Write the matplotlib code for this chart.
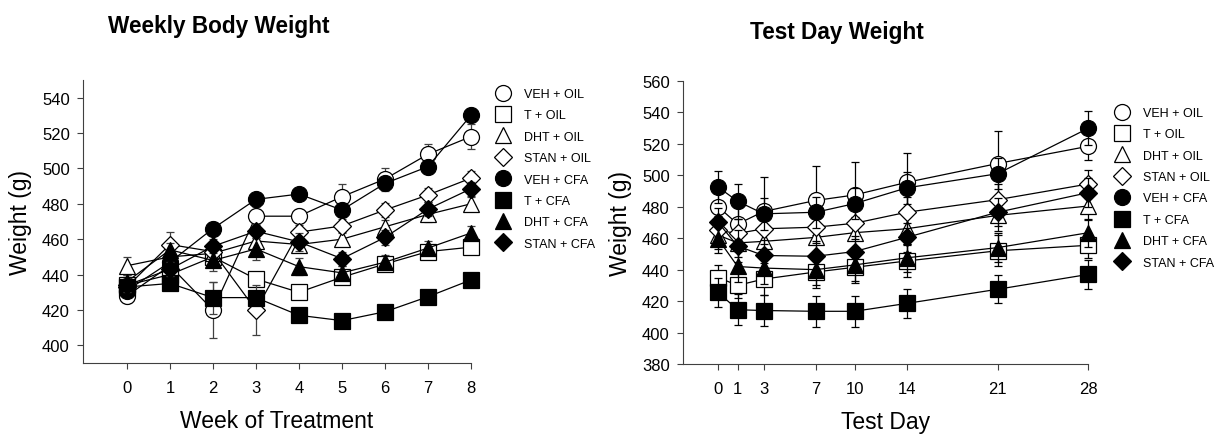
import numpy as np
import matplotlib.pyplot as plt
from matplotlib.lines import Line2D

plt.rcParams['font.family'] = ['Liberation Sans', 'DejaVu Sans']

groups = ['VEH + OIL', 'T + OIL', 'DHT + OIL', 'STAN + OIL',
          'VEH + CFA', 'T + CFA', 'DHT + CFA', 'STAN + CFA']
markers = ['o', 's', '^', 'D', 'o', 's', '^', 'D']
faces = ['white'] * 4 + ['black'] * 4
msize = {'o': 11.5, 's': 11, '^': 12, 'D': 9.5}

# weekly body weight (g), weeks 0-8
weeks = [0, 1, 2, 3, 4, 5, 6, 7, 8]
weekly_mean = [
    [428, 445, 420, 473, 473, 484, 494, 508, 518],
    [434, 440, 450, 437.5, 430, 438.5, 446, 453, 455.5],
    [445, 450, 452, 459, 457, 460, 467, 474, 480],
    [433, 457, 453, 420, 464, 467.5, 476.5, 485, 494.5],
    [431, 447, 466, 482.5, 485.5, 476.5, 491.5, 501, 530],
    [433, 435, 427, 427, 417, 414, 419, 427.5, 437],
    [436, 454, 448, 454.5, 444.5, 441, 447, 455, 463.5],
    [434, 443, 456, 464.5, 458.5, 449, 461, 477, 488.5],
]
weekly_err = [
    [4, 4, 16, 5, 4, 7, 6, 6, 7],
    [4, 3, 4, 4, 4, 3, 3, 3, 4],
    [5, 4, 4, 4, 4, 4, 4, 4, 4],
    [4, 7, 4, 14, 4, 4, 4, 4, 4],
    [3, 4, 4, 3, 3, 4, 4, 4, 4],
    [3, 3, 9, 3, 3, 3, 3, 3, 3],
    [4, 4, 6, 6, 5, 4, 4, 4, 4],
    [4, 4, 4, 4, 5, 4, 4, 4, 4],
]

# test day weight (g)
days = [0, 1, 3, 7, 10, 14, 21, 28]
day_pos = [-0.5, 1, 3, 7, 10, 14, 21, 28]
day_mean = [
    [480, 469, 477, 484, 487.5, 495.5, 507.5, 518.5],
    [435, 430, 434, 438.5, 441.5, 445.5, 452, 455.5],
    [462, 457, 458, 460.5, 463.5, 466, 474.5, 480.5],
    [465, 463, 466, 467, 469.5, 476.5, 484.5, 494.5],
    [492.5, 483.5, 475.5, 476.5, 482, 492, 501, 530],
    [425.5, 414.5, 414, 413.5, 413.5, 418.5, 427.5, 437],
    [459.5, 442, 441, 440, 443, 447.5, 454, 463.5],
    [470, 455, 449, 448.5, 451.5, 460.5, 476.5, 489],
]
day_err = [
    [12, 10, 22, 22, 21, 19, 21, 9],
    [8, 8, 10, 10, 10, 10, 10, 8],
    [9, 9, 10, 10, 10, 10, 10, 9],
    [9, 9, 10, 10, 10, 10, 10, 9],
    [10, 11, 10, 10, 10, 10, 10, 11],
    [9, 10, 10, 10, 10, 9, 9, 9],
    [9, 10, 10, 10, 10, 9, 9, 9],
    [9, 10, 10, 10, 10, 9, 9, 9],
]

fig = plt.figure(figsize=(12.23, 4.35), dpi=100)
ax1 = fig.add_axes([0.0679, 0.163, 0.3172, 0.651])
ax2 = fig.add_axes([0.5585, 0.161, 0.3315, 0.6505])


def draw(ax, x, means, errs, ecolor):
    for i in range(len(groups)):
        ax.errorbar(x, means[i], yerr=errs[i], color='black', ecolor=ecolor,
                    elinewidth=0.9, capsize=3, capthick=0.9, lw=0.9,
                    marker=markers[i], mfc=faces[i], mec='black', mew=0.9,
                    ms=msize[markers[i]], clip_on=False, zorder=3 + i)
    for s in ['top', 'right']:
        ax.spines[s].set_visible(False)
    for s in ['left', 'bottom']:
        ax.spines[s].set_color('#404040')
    ax.tick_params(direction='out', length=4, colors='#404040', labelcolor='black',
                   labelsize=12)
    ax.tick_params(axis='x', pad=8.5)
    ax.tick_params(axis='y', pad=5.5)


draw(ax1, weeks, weekly_mean, weekly_err, '#404040')
ax1.set_xlim(-1.02, 8)
ax1.set_ylim(390, 550)
ax1.set_xticks(weeks)
ax1.set_yticks(range(400, 541, 20))
ax1.set_xlabel('Week of Treatment', fontsize=16.5, labelpad=9.5)
ax1.set_ylabel('Weight (g)', fontsize=16.5, labelpad=7.5)

draw(ax2, day_pos, day_mean, day_err, 'black')
ax2.set_xlim(-3.2, 28)
ax2.set_ylim(380, 560)
ax2.set_xticks(day_pos)
ax2.set_xticklabels([str(d) for d in days])
ax2.set_yticks(range(380, 561, 20))
ax2.set_xlabel('Test Day', fontsize=16.5, labelpad=9.5)
ax2.set_ylabel('Weight (g)', fontsize=16.5, labelpad=7.5)

fig.text(0.179, 0.94, 'Weekly Body Weight', ha='center', va='center',
         fontsize=16.3, fontweight='bold')
fig.text(0.684, 0.925, 'Test Day Weight', ha='center', va='center',
         fontsize=16.3, fontweight='bold')

handles = [Line2D([], [], ls='none', marker=markers[i], mfc=faces[i], mec='black',
                  mew=0.9, ms=msize[markers[i]])
           for i in range(len(groups))]
for bx, by in [(495 / 1223, 1 - 89 / 435), (1114 / 1223, 1 - 108 / 435)]:
    fig.legend(handles, groups, loc='upper left', bbox_to_anchor=(bx, by),
               frameon=False, fontsize=9, borderpad=0, borderaxespad=0,
               handlelength=1.2, handletextpad=1.1, labelspacing=0.75)

fig.savefig('out.png', dpi=100)
